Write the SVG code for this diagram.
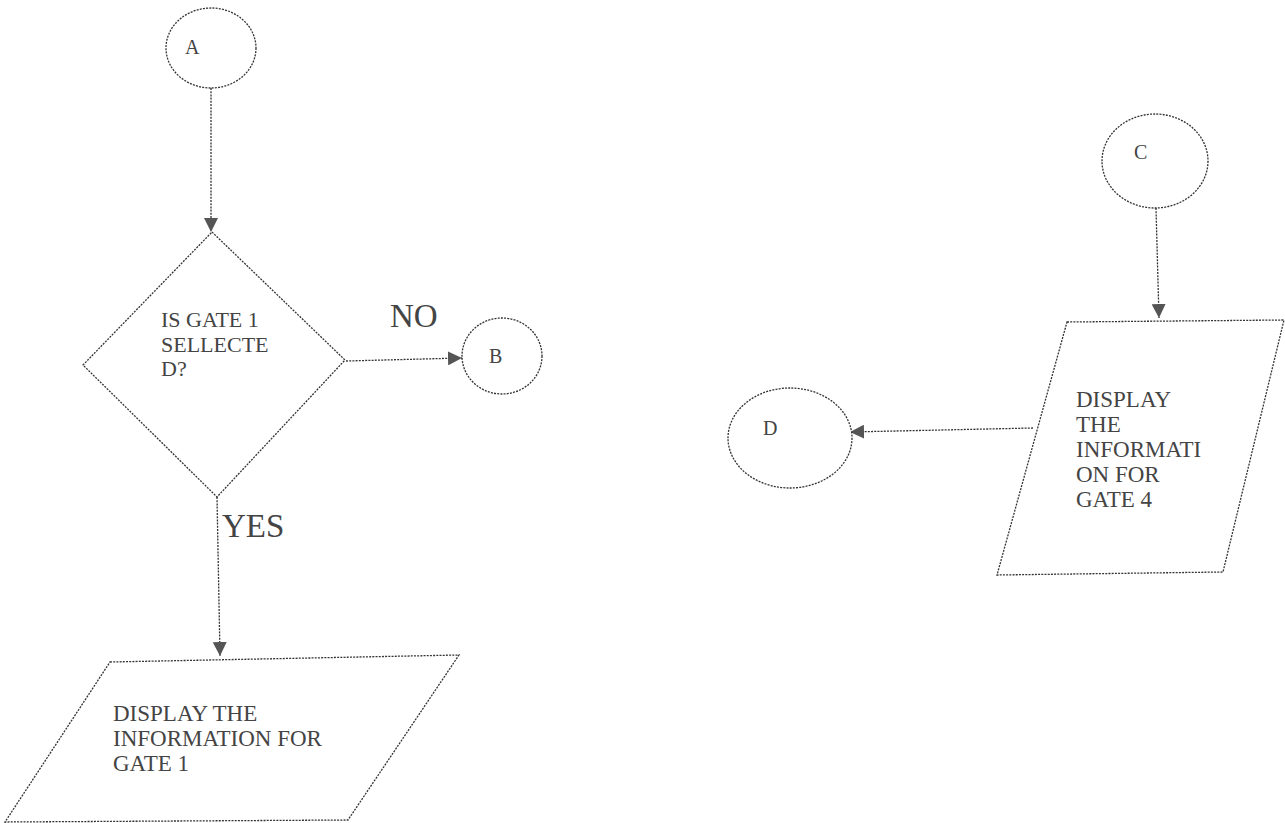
<svg xmlns="http://www.w3.org/2000/svg" width="1285" height="823" viewBox="0 0 1285 823">
<defs>
<style>
.s{fill:#fff;stroke:#333;stroke-width:1.3;stroke-dasharray:2 1.2}
.c{fill:none;stroke:#333;stroke-width:1.3;stroke-dasharray:2 1.2}
text{fill:#444}
.sm{font-size:20px}
.md{font-size:22px}
.bg{font-size:23px}
.lg{font-size:33px}
</style>
<marker id="ah" viewBox="0 0 10 10" refX="10" refY="5" markerWidth="14" markerHeight="14" markerUnits="userSpaceOnUse" orient="auto">
<path d="M0,0 L10,5 L0,10 Z" fill="#555"/>
</marker>
</defs>
<rect width="1285" height="823" fill="#fff"/>
<g id="connectors">
<line class="c" x1="211" y1="88" x2="211" y2="232" marker-end="url(#ah)"/>
<line class="c" x1="346" y1="361" x2="462" y2="358" marker-end="url(#ah)"/>
<line class="c" x1="217" y1="497" x2="220" y2="656" marker-end="url(#ah)"/>
<line class="c" x1="1156" y1="208" x2="1159" y2="318" marker-end="url(#ah)"/>
<line class="c" x1="1033" y1="428" x2="850" y2="432" marker-end="url(#ah)"/>
</g>
<g font-family="Liberation Serif, DejaVu Serif, serif">
<g id="A">
<ellipse class="s" cx="211" cy="48" rx="45" ry="40"/>
<text class="sm" x="185" y="54">A</text>
</g>
<g id="decision">
<polygon class="s" points="212,232 345,360 217,497 83,365"/>
<text class="md"><tspan x="161" y="327">IS GATE 1</tspan><tspan x="161" y="352">SELLECTE</tspan><tspan x="161" y="376">D?</tspan></text>
</g>
<text class="lg" x="390" y="327">NO</text>
<text class="lg" x="222" y="537">YES</text>
<g id="B">
<ellipse class="s" cx="502" cy="356" rx="40" ry="38"/>
<text class="sm" x="489" y="363">B</text>
</g>
<g id="display1">
<polygon class="s" points="110,662 459,655 348,820 5,822"/>
<text class="bg"><tspan x="113" y="721">DISPLAY THE</tspan><tspan x="113" y="746">INFORMATION FOR</tspan><tspan x="113" y="771">GATE 1</tspan></text>
</g>
<g id="C">
<ellipse class="s" cx="1155" cy="161" rx="53" ry="47"/>
<text class="sm" x="1134" y="159">C</text>
</g>
<g id="display4">
<polygon class="s" points="1067,322 1284,320 1223,572 997,575"/>
<text class="bg"><tspan x="1076" y="407">DISPLAY</tspan><tspan x="1076" y="432">THE</tspan><tspan x="1076" y="457">INFORMATI</tspan><tspan x="1076" y="482">ON FOR</tspan><tspan x="1076" y="507">GATE 4</tspan></text>
</g>
<g id="D">
<ellipse class="s" cx="790" cy="438" rx="62" ry="50"/>
<text class="sm" x="763" y="435">D</text>
</g>
</g>
</svg>
